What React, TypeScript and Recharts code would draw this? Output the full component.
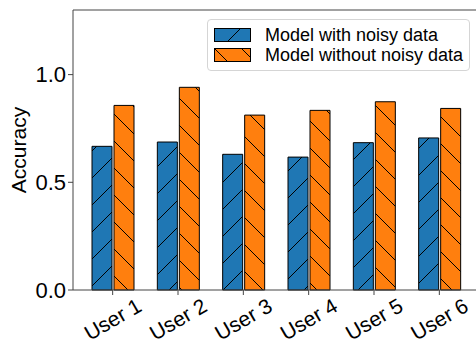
import { Bar, BarChart, Legend, ReferenceLine, XAxis, YAxis } from 'recharts';

const USERS = ['User 1', 'User 2', 'User 3', 'User 4', 'User 5', 'User 6'];
const WITH_NOISE = [0.667, 0.687, 0.63, 0.617, 0.684, 0.706];
const WITHOUT_NOISE = [0.857, 0.941, 0.812, 0.834, 0.874, 0.843];
const Y_TICKS = [0, 0.5, 1.0];
const SERIES_NAMES = ['Model with noisy data', 'Model without noisy data'];

const BLUE = '#1f77b4';
const ORANGE = '#ff7f0e';
const AXIS = '#444';
const FONT = '"Liberation Sans", Arial, sans-serif';

const data = USERS.map((user, i) => ({
  user,
  noisy: WITH_NOISE[i],
  clean: WITHOUT_NOISE[i],
}));

function Hatches() {
  return (
    <defs>
      <pattern id="hatchBlue" patternUnits="userSpaceOnUse" width={27} height={27}>
        <rect width={27} height={27} fill={BLUE} />
        <path d="M0,27 L27,0 M-3,3 L3,-3 M24,30 L30,24" stroke="#000" strokeWidth={1} />
      </pattern>
      <pattern id="hatchOrange" patternUnits="userSpaceOnUse" width={27} height={27}>
        <rect width={27} height={27} fill={ORANGE} />
        <path d="M0,0 L27,27 M-3,24 L3,30 M24,-3 L30,3" stroke="#000" strokeWidth={1} />
      </pattern>
    </defs>
  );
}

function UserTick({ x, y, payload }: any) {
  const cy = y + 22;
  return (
    <text
      x={x}
      y={cy}
      textAnchor="middle"
      dominantBaseline="central"
      transform={`rotate(-30 ${x} ${cy})`}
      fontSize={21}
      fontFamily={FONT}
      fill="#000"
    >
      {payload.value}
    </text>
  );
}

function LegendBox() {
  const fills = ['url(#hatchBlue)', 'url(#hatchOrange)'];
  return (
    <div
      style={{
        border: '1px solid #d5d5d5',
        borderRadius: 4,
        background: 'rgba(255,255,255,0.8)',
        padding: '5px 0 0 6px',
        height: 45,
        boxSizing: 'content-box',
        fontFamily: FONT,
        fontSize: 18,
        color: '#000',
      }}
    >
      {SERIES_NAMES.map((name, i) => (
        <div key={name} style={{ display: 'flex', alignItems: 'center', height: 20 }}>
          <svg width={37} height={14} style={{ marginRight: 14 }}>
            <rect x={0.5} y={0.5} width={36} height={13} fill={fills[i]} stroke="#000" />
          </svg>
          <span style={{ lineHeight: '20px' }}>{name}</span>
        </div>
      ))}
    </div>
  );
}

export default function App() {
  return (
    <div style={{ position: 'absolute', left: 0, top: 0, background: '#fff' }}>
      <BarChart
        width={476}
        height={345}
        data={data}
        margin={{ top: 10, right: 0, bottom: 0, left: 0 }}
        barGap={2}
        barSize={20}
      >
        <Hatches />
        <XAxis
          dataKey="user"
          height={55}
          padding={{ left: 7, right: 4 }}
          tick={<UserTick />}
          tickSize={5}
          tickLine={{ stroke: AXIS }}
          axisLine={{ stroke: AXIS }}
          interval={0}
        />
        <YAxis
          width={73}
          domain={[0, 1.3]}
          ticks={Y_TICKS}
          tickFormatter={(v: number) => v.toFixed(1)}
          tickSize={5}
          tickLine={{ stroke: AXIS }}
          axisLine={{ stroke: AXIS }}
          tick={{ fontSize: 22, fontFamily: FONT, fill: '#000' }}
          label={{
            content: ({ viewBox }: any) => (
              <text
                x={18}
                y={viewBox.y + viewBox.height / 2}
                textAnchor="middle"
                dominantBaseline="central"
                transform={`rotate(-90 18 ${viewBox.y + viewBox.height / 2})`}
                fontSize={21}
                fontFamily={FONT}
                fill="#000"
              >
                Accuracy
              </text>
            ),
          }}
        />
        <ReferenceLine y={1.3} stroke={AXIS} />
        <Legend
          layout="vertical"
          align="center"
          verticalAlign="middle"
          content={<LegendBox />}
          wrapperStyle={{ left: 207, top: 19, width: 263 }}
        />
        <Bar dataKey="noisy" name={SERIES_NAMES[0]} fill="url(#hatchBlue)" stroke="#000" strokeWidth={1} isAnimationActive={false} />
        <Bar dataKey="clean" name={SERIES_NAMES[1]} fill="url(#hatchOrange)" stroke="#000" strokeWidth={1} isAnimationActive={false} />
      </BarChart>
    </div>
  );
}
